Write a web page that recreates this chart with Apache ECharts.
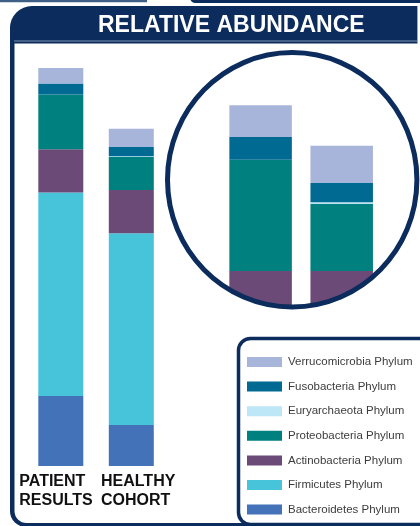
<!DOCTYPE html>
<html><head><meta charset="utf-8">
<script src="https://cdn.jsdelivr.net/npm/echarts@6/dist/echarts.min.js"></script>
<style>html,body{margin:0;padding:0;background:#fff;overflow:hidden}#c{width:420px;height:526px}</style>
</head><body><div id="c"></div>
<script>
// ---- data (relative abundance, %) ----
const categories = ['PATIENT\nRESULTS', 'HEALTHY\nCOHORT'];
const legendOrder = ['Verrucomicrobia Phylum', 'Fusobacteria Phylum', 'Euryarchaeota Phylum',
  'Proteobacteria Phylum', 'Actinobacteria Phylum', 'Firmicutes Phylum', 'Bacteroidetes Phylum'];
const bacteroidetes  = [17.6, 10.3];
const firmicutes     = [51.3, 48.3];
const actinobacteria = [10.9, 10.9];
const proteobacteria = [13.75, 8.3];
const euryarchaeota  = [0.0, 0.2];
const fusobacteria   = [2.8, 2.35];
const verrucomicrobia = [3.9, 4.6];
const titleText = 'RELATIVE ABUNDANCE';

// ---- styling ----
const NAVY = '#0b2c5c';
const colors = {
  'Bacteroidetes Phylum': '#4472b9',
  'Firmicutes Phylum': '#47c3da',
  'Actinobacteria Phylum': '#6b4a78',
  'Proteobacteria Phylum': '#00817f',
  'Euryarchaeota Phylum': '#bde6f7',
  'Fusobacteria Phylum': '#006a93',
  'Verrucomicrobia Phylum': '#a8b5db'
};
const mainStack = [
  ['Bacteroidetes Phylum', bacteroidetes],
  ['Firmicutes Phylum', firmicutes],
  ['Actinobacteria Phylum', actinobacteria],
  ['Proteobacteria Phylum', proteobacteria],
  ['Euryarchaeota Phylum', euryarchaeota],
  ['Fusobacteria Phylum', fusobacteria],
  ['Verrucomicrobia Phylum', verrucomicrobia]
];
const insetStack = mainStack.slice(2);

const series = [];
mainStack.forEach(([name, data]) => series.push({
  name, type: 'bar', stack: 'main', xAxisIndex: 0, yAxisIndex: 0, barWidth: 45,
  data, itemStyle: { color: colors[name] }, z: 2
}));
insetStack.forEach(([name, data]) => series.push({
  name, type: 'bar', stack: 'inset', xAxisIndex: 1, yAxisIndex: 1, barWidth: 62.5,
  data, itemStyle: { color: colors[name] }, z: 2
}));

const cx = 292.2, cy = 179.8;
const chart = echarts.init(document.getElementById('c'), null, { renderer: 'canvas' });
chart.setOption({
  animation: false,
  backgroundColor: '#fff',
  title: {
    text: titleText, left: 98, top: 14, padding: 0, z: 8,
    textStyle: { color: '#fff', fontSize: 23, fontWeight: 'bold', fontFamily: 'Liberation Sans', lineHeight: 24 }
  },
  grid: [
    { left: 25.55, top: 65, width: 141, height: 401 },
    { left: 220.05, top: 75.79, width: 162.2, height: 238.14 },
    { left: 19.3, top: 401, width: 81.7, height: 66 }
  ],
  xAxis: [
    { gridIndex: 0, type: 'category', data: categories, show: false },
    { gridIndex: 1, type: 'category', data: categories, show: false },
    { gridIndex: 2, type: 'category', data: categories, boundaryGap: false,
      axisLine: { show: false }, axisTick: { show: false }, splitLine: { show: false },
      axisLabel: { interval: 0, align: 'left', margin: 5, color: '#111', fontSize: 16,
        fontWeight: 'bold', fontFamily: 'Liberation Sans', lineHeight: 19 } }
  ],
  yAxis: [
    { gridIndex: 0, type: 'value', min: 0, max: 101, show: false },
    { gridIndex: 1, type: 'value', min: 5.6, max: 35, show: false },
    { gridIndex: 2, type: 'value', show: false }
  ],
  legend: {
    data: legendOrder, orient: 'vertical', left: 247, top: 356, padding: 0, z: 8,
    itemWidth: 35, itemHeight: 10, itemGap: 12.6, icon: 'rect', selectedMode: false,
    textStyle: { fontSize: 11.5, color: '#3c3c3c', fontFamily: 'Liberation Sans', lineHeight: 12, padding: [0, 0, 0, 1] }
  },
  graphic: [
    // top decorative strips
    { type: 'line', z: 0, shape: { x1: 0, y1: 1, x2: 147, y2: 1 }, style: { stroke: '#3f5f86', lineWidth: 2.5 } },
    { type: 'rect', z: 0, shape: { x: 190, y: -8, width: 240, height: 11, r: 6 }, style: { fill: NAVY } },
    // frame
    { type: 'rect', z: 0, shape: { x: 10, y: 6, width: 440, height: 521, r: [22, 0, 0, 16] }, style: { fill: NAVY } },
    { type: 'rect', z: 0, shape: { x: 14.5, y: 43.5, width: 440, height: 479.5, r: [0, 0, 0, 12] }, style: { fill: '#fff' } },
    { type: 'rect', z: 0, shape: { x: 417.5, y: 5, width: 10, height: 40 }, style: { fill: '#fff' } },
    { type: 'line', z: 0, shape: { x1: 14, y1: 41, x2: 417, y2: 41 }, style: { stroke: '#8195b0', lineWidth: 1 } },
    { type: 'line', z: 0, shape: { x1: 417.5, y1: 6, x2: 417.5, y2: 43 }, style: { stroke: '#9aa8bb', lineWidth: 1 } },
    // mask outside inset circle
    { type: 'sector', z: 5, shape: { cx, cy, r0: 126.5, r: 162, startAngle: 35 * Math.PI / 180, endAngle: 145 * Math.PI / 180 }, style: { fill: '#fff' } },
    // covers at the right edge
    { type: 'rect', z: 20, shape: { x: 416.5, y: 44, width: 10, height: 100 }, style: { fill: '#fff' } },
    { type: 'rect', z: 20, shape: { x: 416.5, y: 216, width: 10, height: 120 }, style: { fill: '#fff' } },
    // inset circle
    { type: 'ellipse', z: 6, shape: { cx, cy, rx: 124.7, ry: 127.2 }, style: { fill: 'none', stroke: NAVY, lineWidth: 5 } },
    // legend box
    { type: 'rect', z: 7, shape: { x: 238.5, y: 338.5, width: 200, height: 186, r: 12 }, style: { fill: '#fff', stroke: NAVY, lineWidth: 3.5 } }
  ],
  series
});
</script></body></html>
